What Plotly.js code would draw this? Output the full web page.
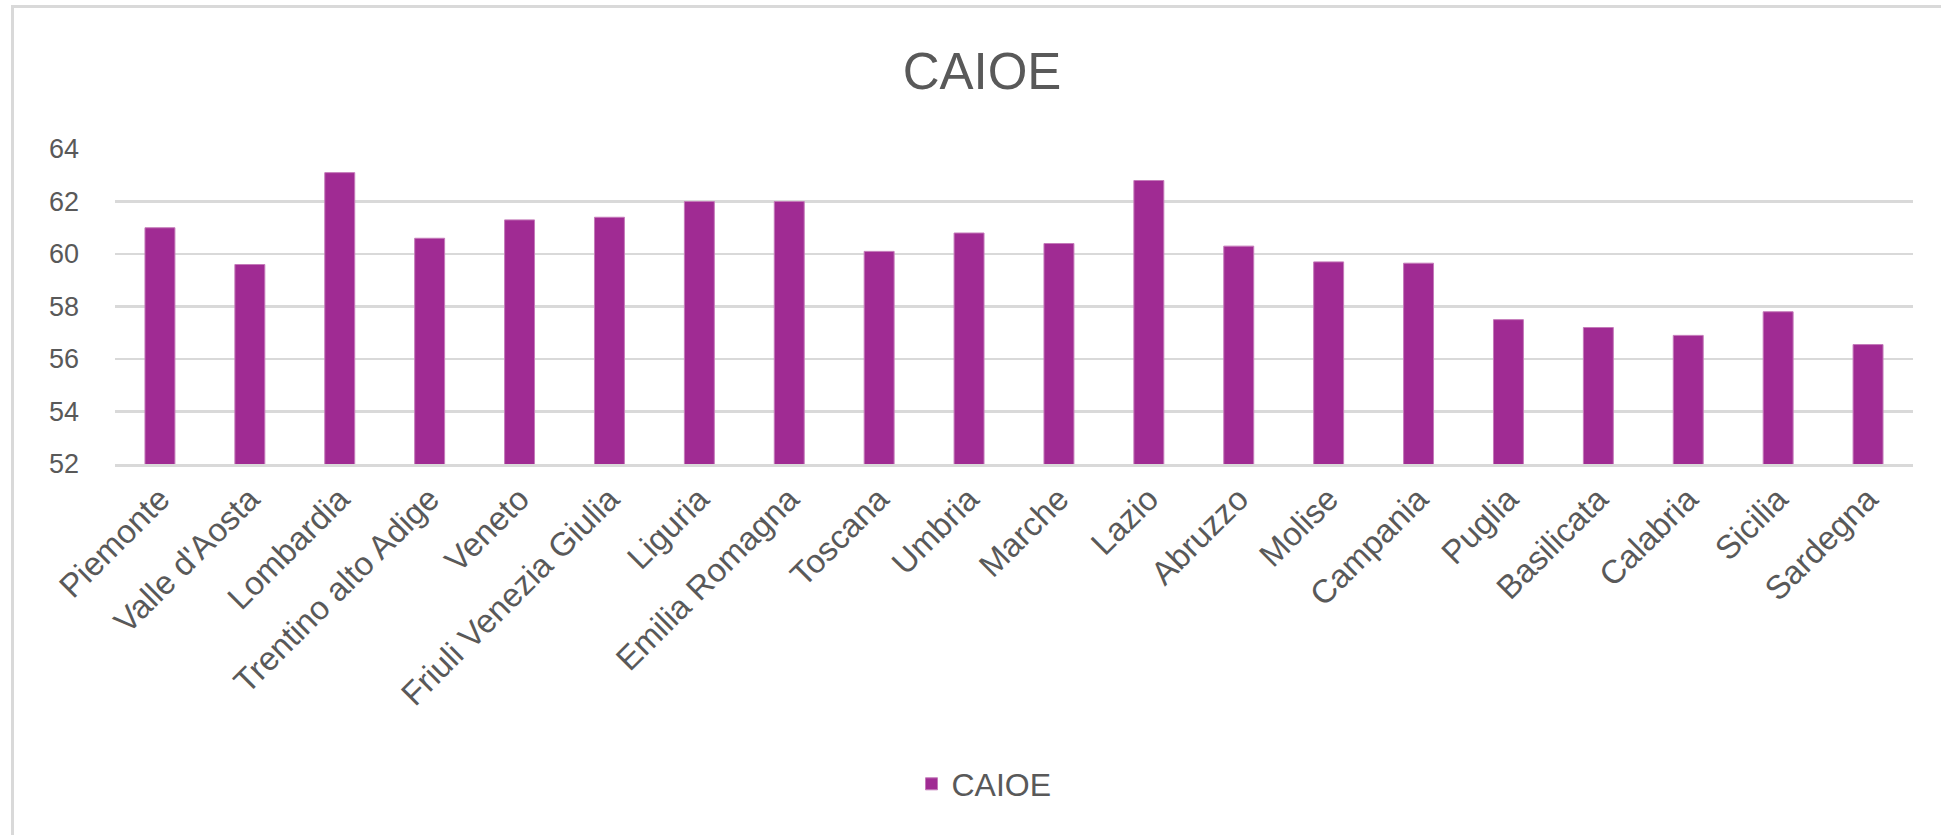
<!DOCTYPE html>
<html>
<head>
<meta charset="utf-8">
<script src="https://cdn.plot.ly/plotly-3.0.1.min.js"></script>
<style>
  html, body { margin: 0; padding: 0; background: #ffffff; overflow: hidden; }
  #chart { width: 1941px; height: 835px; }
  #frame { position: absolute; left: 11px; top: 5px; width: 2100px; height: 1000px;
           border: 3px solid #d9d9d9; pointer-events: none; z-index: 10; }
</style>
</head>
<body>
<div id="chart"></div>
<div id="frame"></div>
<script>
const categories = ["Piemonte", "Valle d'Aosta", "Lombardia", "Trentino alto Adige", "Veneto",
  "Friuli Venezia Giulia", "Liguria", "Emilia Romagna", "Toscana", "Umbria", "Marche", "Lazio",
  "Abruzzo", "Molise", "Campania", "Puglia", "Basilicata", "Calabria", "Sicilia", "Sardegna"];
const caioe = [61.0, 59.6, 63.1, 60.6, 61.3, 61.4, 62.0, 62.0, 60.1, 60.8, 60.4, 62.8,
  60.3, 59.7, 59.65, 57.5, 57.2, 56.9, 57.8, 56.55];
const seriesName = "CAIOE";
const chartTitle = "CAIOE";
const yTicks = [52, 54, 56, 58, 60, 62, 64];

const FONT = "Liberation Sans, Arial, sans-serif";
const GREY = "#595959";

const trace = {
  type: "bar",
  x: categories,
  y: caioe,
  name: seriesName,
  marker: { color: "#A02B93", line: { color: "#c47ab9", width: 1 } },
  hoverinfo: "x+y"
};

const layout = {
  width: 1941,
  height: 835,
  paper_bgcolor: "#ffffff",
  plot_bgcolor: "#ffffff",
  margin: { l: 115, r: 28, t: 149, b: 371 },
  font: { family: FONT, color: GREY },
  title: {
    text: chartTitle,
    font: { family: FONT, size: 51, color: GREY },
    x: 982 / 1941, xref: "container", xanchor: "center",
    y: 1 - 71 / 835, yref: "container", yanchor: "middle"
  },
  bargap: 0.667,
  xaxis: {
    type: "category",
    tickangle: -45,
    tickfont: { family: FONT, size: 33, color: GREY },
    showgrid: false,
    zeroline: false,
    showline: true,
    linecolor: "#d9d9d9",
    linewidth: 2.5,
    ticks: "",
    automargin: false
  },
  yaxis: {
    range: [52, 64],
    tickvals: yTicks,
    ticktext: yTicks.map(String),
    tickfont: { family: FONT, size: 27, color: GREY },
    showgrid: true,
    gridcolor: "#d9d9d9",
    gridwidth: 2.5,
    zeroline: false,
    showline: false,
    ticks: "",
    ticklabelstandoff: 35,
    automargin: false
  },
  showlegend: true,
  legend: {
    orientation: "h",
    x: 984 / 1941, xref: "container", xanchor: "center",
    y: 1 - 784 / 835, yref: "container", yanchor: "middle",
    font: { family: FONT, size: 32, color: GREY },
    itemwidth: 30
  }
};

Plotly.newPlot("chart", [trace], layout, { displayModeBar: false, staticPlot: true });
</script>
</body>
</html>
